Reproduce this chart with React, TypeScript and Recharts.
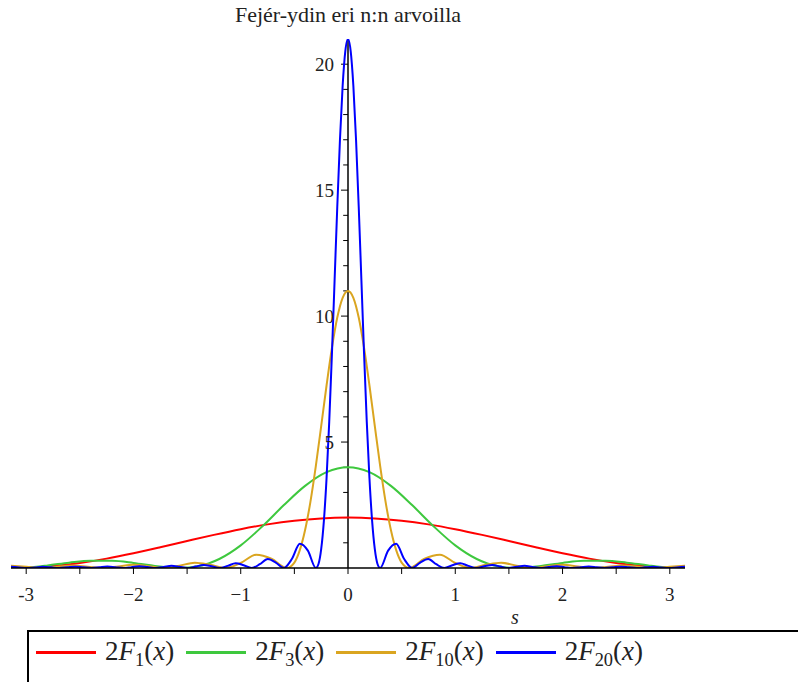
import React from 'react';
import { LineChart, Line, XAxis, YAxis, ReferenceLine, Legend } from 'recharts';

// Fejér kernels 2F_n(x) for x >= 0 (curves are even in x)
const RED_X = [0, 0.25, 0.5, 0.75, 1, 1.25, 1.5, 1.75, 2, 2.25, 2.5, 2.75, 3, 3.1416];
const RED_Y = [2, 1.969, 1.878, 1.732, 1.54, 1.315, 1.071, 0.822, 0.584, 0.372, 0.199, 0.076, 0.01, 0];

const GREEN_X = [0, 0.2, 0.4, 0.6, 0.8, 1.0, 1.2, 1.3, 1.4, 1.5708, 1.7, 1.8, 2.0, 2.2, 2.4, 2.6, 2.8, 3.0, 3.1416];
const GREEN_Y = [4, 3.804, 3.259, 2.487, 1.647, 0.899, 0.358, 0.181, 0.068, 0, 0.029, 0.08, 0.202, 0.285, 0.286, 0.21, 0.103, 0.02, 0];

const ORANGE_X = [
  0, 0.05, 0.1, 0.15, 0.2, 0.25, 0.3, 0.35, 0.4, 0.45, 0.5, 0.5712, 0.714, 0.857, 1.0, 1.1424, 1.2852, 1.428,
  1.5708, 1.7136, 1.8564, 1.9992, 2.142, 2.2848, 2.4276, 2.5704, 2.7132, 2.856, 2.9988, 3.1416,
];
const ORANGE_Y = [
  11, 10.728, 9.943, 8.737, 7.245, 5.628, 4.045, 2.637, 1.506, 0.698, 0.216, 0, 0.372, 0.527, 0.198, 0, 0.127, 0.212,
  0.091, 0, 0.071, 0.129, 0.059, 0, 0.052, 0.099, 0.048, 0, 0.046, 0.091,
];

const BLUE_X = [
  0, 0.025, 0.05, 0.075, 0.1, 0.125, 0.15, 0.175, 0.2, 0.225, 0.25, 0.275, 0.2992, 0.374, 0.4488, 0.5236, 0.5984,
  0.6732, 0.748, 0.8228, 0.8976, 0.9724, 1.0472, 1.122, 1.1968, 1.2716, 1.3464, 1.4212, 1.496, 1.5708, 1.6456,
  1.7204, 1.7952, 1.87, 1.9448, 2.0196, 2.0944, 2.1692, 2.244, 2.3188, 2.3936, 2.4684, 2.5432, 2.618, 2.6928,
  2.7676, 2.8424, 2.9172, 2.992, 3.0668, 3.1416,
];
const BLUE_Y = [
  21, 20.52, 19.14, 17.0, 14.34, 11.41, 8.481, 5.802, 3.56, 1.863, 0.747, 0.16, 0, 0.689, 0.962, 0.355, 0,
  0.218, 0.357, 0.149, 0, 0.109, 0.19, 0.084, 0, 0.068, 0.123, 0.056, 0, 0.048, 0.089,
  0.041, 0, 0.037, 0.07, 0.033, 0, 0.031, 0.059, 0.028, 0, 0.027, 0.052, 0.026, 0,
  0.025, 0.049, 0.024, 0, 0.024, 0.048,
];

const X_TICKS = [-3, -2.5, -2, -1.5, -1, -0.5, 0, 0.5, 1, 1.5, 2, 2.5, 3];
const X_LABELS = ['-3', '', '\u22122', '', '\u22121', '', '0', '', '1', '', '2', '', '3'];
const Y_TICKS = [1, 2, 3, 4, 5, 6, 7, 8, 9, 10, 11, 12, 13, 14, 15, 16, 17, 18, 19, 20];
const Y_LABELED = [5, 10, 15, 20];

const FONT = "'Liberation Serif', 'DejaVu Serif', serif";

// mirror the x >= 0 half to the left side
const buildSeries = (xs: number[], ys: number[]) => {
  const right = xs.map((x, i) => ({ x, y: ys[i] }));
  const left = right.slice(1).reverse().map((p) => ({ x: -p.x, y: p.y }));
  return [...left, ...right];
};

const SERIES = [
  { key: 'f1', n: '1', color: '#ff0000', data: buildSeries(RED_X, RED_Y) },
  { key: 'f3', n: '3', color: '#3ec83e', data: buildSeries(GREEN_X, GREEN_Y) },
  { key: 'f10', n: '10', color: '#daa520', data: buildSeries(ORANGE_X, ORANGE_Y) },
  { key: 'f20', n: '20', color: '#0000ff', data: buildSeries(BLUE_X, BLUE_Y) },
];

// legend box runs off the bottom/right edge like in the original export
const LegendBox = () => (
  <div
    style={{
      boxSizing: 'border-box',
      width: 800,
      height: 52,
      border: '2px solid #000',
      borderBottom: 'none',
      display: 'flex',
      alignItems: 'center',
      paddingLeft: 7,
      paddingBottom: 10,
      fontFamily: FONT,
      fontSize: 27,
      color: '#222',
      whiteSpace: 'nowrap',
    }}
  >
    {SERIES.map((s) => (
      <div key={s.key} style={{ display: 'flex', alignItems: 'center', marginRight: 12 }}>
        <span style={{ display: 'inline-block', width: 60, height: 3, background: s.color, marginRight: 9 }} />
        <span style={{ lineHeight: '28px' }}>
          2<i>F</i>
          <span style={{ fontSize: '0.68em', position: 'relative', top: '0.35em' }}>{s.n}</span>(<i>x</i>)
        </span>
      </div>
    ))}
  </div>
);

export default function App() {
  return (
    <div
      style={{
        position: 'relative',
        margin: '-8px 0 0 -8px',
        width: 806,
        height: 682,
        overflow: 'hidden',
        fontFamily: FONT,
        background: '#fff',
      }}
    >
      <LineChart width={806} height={682} margin={{ top: 39, right: 121, bottom: 0, left: 11 }}>
        <XAxis
          type="number"
          dataKey="x"
          domain={[-Math.PI, Math.PI]}
          allowDataOverflow
          ticks={X_TICKS}
          interval={0}
          tickFormatter={(v: number) => X_LABELS[X_TICKS.indexOf(v)] ?? ''}
          height={62}
          tickSize={6}
          tickMargin={14}
          axisLine={{ stroke: '#000', strokeWidth: 1.5 }}
          tickLine={{ stroke: '#000' }}
          tick={{ fontSize: 19, fill: '#222', fontFamily: FONT }}
          label={{
            value: 's',
            position: 'insideBottom',
            offset: 6,
            dx: 167,
            fontSize: 20,
            fontStyle: 'italic',
            fill: '#222',
            fontFamily: FONT,
          }}
        />
        <YAxis hide type="number" domain={[0, 21]} allowDataOverflow />
        <ReferenceLine x={0} stroke="#000" strokeWidth={1.5} />
        {Y_TICKS.map((v) => {
          const major = Y_LABELED.includes(v);
          return (
            <ReferenceLine
              key={v}
              segment={[
                { x: major ? -0.065 : -0.045, y: v },
                { x: 0, y: v },
              ]}
              stroke="#000"
              label={
                major
                  ? { value: String(v), position: 'left', offset: 7, fontSize: 19, fill: '#222', fontFamily: FONT }
                  : undefined
              }
            />
          );
        })}
        {SERIES.map((s) => (
          <Line
            key={s.key}
            data={s.data}
            dataKey="y"
            name={s.key}
            type="monotone"
            stroke={s.color}
            strokeWidth={2}
            dot={false}
            activeDot={false}
            isAnimationActive={false}
          />
        ))}
        <Legend
          verticalAlign="bottom"
          align="left"
          wrapperStyle={{ left: 27, width: 800, height: 52 }}
          content={() => <LegendBox />}
        />
      </LineChart>
      <div
        style={{
          position: 'absolute',
          zIndex: 2,
          top: 2,
          left: 0,
          width: 696,
          textAlign: 'center',
          fontSize: 22,
          lineHeight: '26px',
          color: '#222',
          pointerEvents: 'none',
        }}
      >
        Fejér-ydin eri n:n arvoilla
      </div>
    </div>
  );
}
